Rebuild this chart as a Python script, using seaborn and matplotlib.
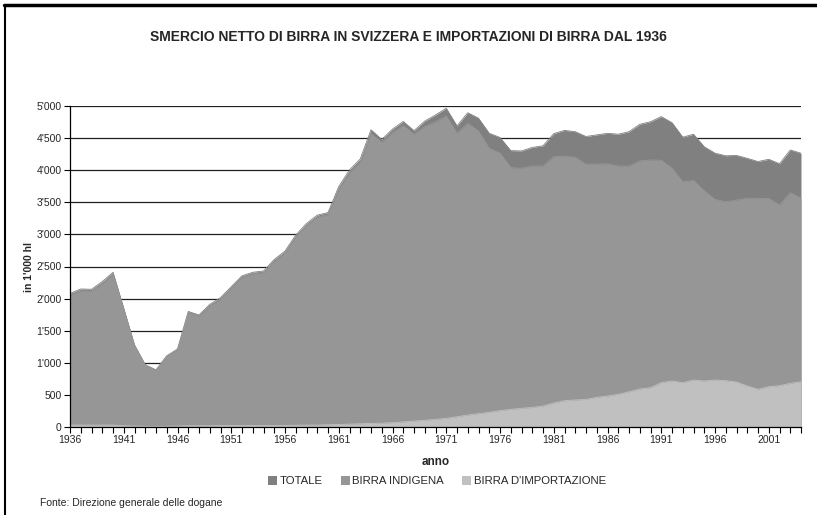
import matplotlib
matplotlib.use("Agg")
import matplotlib.pyplot as plt
import seaborn as sns
import numpy as np
import pandas as pd
from matplotlib.patches import Patch
from matplotlib.lines import Line2D
from matplotlib.ticker import FuncFormatter

years = list(range(1936, 2005))

totale = [2080, 2150, 2145, 2265, 2410, 1850, 1280, 970, 890, 1110,
          1215, 1800, 1745, 1910, 2015, 2185, 2355, 2410, 2430, 2610,
          2740, 2990, 3170, 3300, 3340, 3745, 4005, 4175, 4630, 4480,
          4640, 4760, 4615, 4765, 4860, 4965, 4690, 4895, 4810, 4575,
          4510, 4305, 4300, 4355, 4380, 4570, 4620, 4600, 4525, 4550,
          4575, 4560, 4600, 4715, 4755, 4835, 4740, 4515, 4560, 4365,
          4265, 4225, 4230, 4185, 4135, 4170, 4100, 4315, 4265]

indigena = [2050, 2120, 2115, 2235, 2380, 1830, 1265, 960, 880, 1100,
            1200, 1780, 1725, 1890, 1993, 2163, 2333, 2385, 2405, 2585,
            2715, 2962, 3140, 3270, 3305, 3705, 3960, 4125, 4570, 4430,
            4585, 4695, 4560, 4680, 4755, 4845, 4575, 4730, 4610, 4340,
            4265, 4040, 4030, 4065, 4065, 4210, 4220, 4200, 4095, 4095,
            4100, 4065, 4065, 4145, 4160, 4155, 4030, 3820, 3840, 3680,
            3545, 3510, 3535, 3565, 3560, 3560, 3460, 3650, 3565]

importazione = [30, 30, 30, 30, 30, 20, 15, 10, 10, 10,
                15, 20, 20, 20, 22, 22, 22, 25, 25, 25,
                25, 28, 30, 30, 35, 40, 45, 50, 55, 60,
                68, 80, 92, 105, 118, 135, 160, 187, 208, 229,
                255, 275, 291, 305, 327, 375, 410, 421, 431, 462,
                483, 509, 550, 592, 613, 691, 717, 691, 732, 717,
                732, 722, 701, 639, 587, 628, 644, 680, 706]

series_names = ["TOTALE", "BIRRA INDIGENA", "BIRRA D'IMPORTAZIONE"]
series_colors = ["#808080", "#969696", "#c0c0c0"]

df = pd.DataFrame({"anno": years, "TOTALE": totale,
                   "BIRRA INDIGENA": indigena,
                   "BIRRA D'IMPORTAZIONE": importazione})

sns.set_theme(style="white")
plt.rcParams["font.family"] = ["Liberation Sans", "DejaVu Sans"]

fig = plt.figure(figsize=(8.17, 5.15), dpi=100)
ax = fig.add_axes([70/817, 1-427/515, (801-70)/817, (427-106)/515])

for name, col in zip(series_names, series_colors):
    ax.fill_between(df["anno"], 0, df[name], color=col, linewidth=0, zorder=3)
    sns.lineplot(data=df, x="anno", y=name, ax=ax, color=col, linewidth=0.6,
                 zorder=3, legend=False)

ax.set_xlim(1936, 2004)
ax.set_ylim(0, 5000)
ax.set_yticks(range(0, 5001, 500))
ax.yaxis.set_major_formatter(FuncFormatter(lambda v, p: f"{int(v):,}".replace(",", "'")))
ax.set_xticks(years)
ax.set_xticklabels([str(y) if (y - 1936) % 5 == 0 else "" for y in years])
ax.tick_params(axis="both", direction="out", length=4, width=0.8, color="black",
               labelsize=7.5, pad=2, bottom=True, left=True)
ax.grid(axis="y", color="#202020", linewidth=0.9, zorder=1)
ax.grid(axis="x", visible=False)
for s in ["top", "right"]:
    ax.spines[s].set_visible(False)
for s in ["left", "bottom"]:
    ax.spines[s].set_color("black")
    ax.spines[s].set_linewidth(0.9)
    ax.spines[s].set_zorder(5)

ax.set_xlabel("anno", fontsize=8.5, fontweight="bold", labelpad=8)
ax.set_ylabel("in 1'000 hl", fontsize=7.5, fontweight="bold", labelpad=2)

fig.text(0.5, 1-37/515, "SMERCIO NETTO DI BIRRA IN SVIZZERA E IMPORTAZIONI DI BIRRA DAL 1936",
         ha="center", va="center", fontsize=10, fontweight="bold")

handles = [Patch(facecolor=c, edgecolor="none") for c in series_colors]
fig.legend(handles, series_names, loc="center", bbox_to_anchor=(437/817, 1-481/515),
           ncol=3, frameon=False, fontsize=8.2, handlelength=0.8, handleheight=0.8,
           handletextpad=0.2, columnspacing=1.6)

fig.text(40/817, 1-503/515, "Fonte: Direzione generale delle dogane", ha="left",
         va="center", fontsize=7.5)

fig.add_artist(Line2D([4/817, 1], [1-5/515, 1-5/515], color="black", linewidth=2.5,
                      transform=fig.transFigure))
fig.add_artist(Line2D([5/817, 5/817], [0, 1-5/515], color="black", linewidth=1.5,
                      transform=fig.transFigure))

fig.savefig("out.png", dpi=100)
